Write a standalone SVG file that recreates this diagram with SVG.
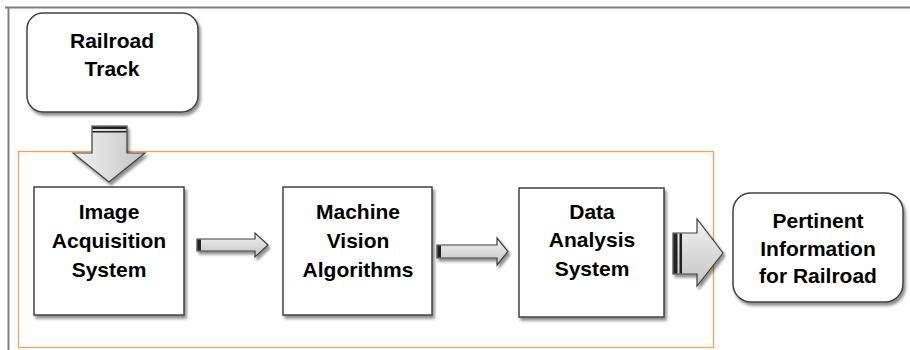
<svg xmlns="http://www.w3.org/2000/svg" width="910" height="350" viewBox="0 0 910 350">
<defs>
<filter id="sh" x="-10%" y="-10%" width="130%" height="130%">
<feGaussianBlur in="SourceAlpha" stdDeviation="1.5"/>
<feOffset dx="2" dy="3" result="b"/>
<feComponentTransfer><feFuncA type="linear" slope="0.45"/></feComponentTransfer>
<feMerge><feMergeNode/><feMergeNode in="SourceGraphic"/></feMerge>
</filter>
<linearGradient id="gv" x1="0" y1="0" x2="1" y2="0">
<stop offset="0" stop-color="#f2f2f2"/><stop offset="1" stop-color="#c4c4c4"/>
</linearGradient>
<linearGradient id="gh" x1="0" y1="0" x2="0" y2="1">
<stop offset="0" stop-color="#f2f2f2"/><stop offset="1" stop-color="#c4c4c4"/>
</linearGradient>
</defs>
<style>
.box{fill:#fff;stroke:#404040;stroke-width:1.5;filter:url(#sh)}
.t{font-family:"Liberation Sans",Arial,sans-serif;font-weight:bold;font-size:21px;fill:#000;text-anchor:middle}
.arr{stroke:#404040;stroke-width:1.2;stroke-linejoin:miter;filter:url(#sh)}
.band{fill:#222}
</style>
<rect width="910" height="350" fill="#fff"/>
<path d="M5 7.5H910M8.5 7V350" stroke="#808080" stroke-width="2" fill="none"/>
<rect x="18.5" y="151.5" width="695" height="196" fill="none" stroke="#f5a05a" stroke-width="1.3"/>
<g id="railroad-track">
<rect class="box" x="27" y="13" width="171" height="99" rx="16"/>
<text class="t" x="112" y="48">Railroad</text>
<text class="t" x="112" y="76">Track</text>
</g>
<g id="image-acquisition">
<rect class="box" x="34" y="187" width="150" height="128"/>
<text class="t" x="109" y="219">Image</text>
<text class="t" x="109" y="248">Acquisition</text>
<text class="t" x="109" y="277">System</text>
</g>
<g id="machine-vision">
<rect class="box" x="283" y="187" width="149" height="128"/>
<text class="t" x="358" y="219">Machine</text>
<text class="t" x="358" y="248">Vision</text>
<text class="t" x="358" y="277">Algorithms</text>
</g>
<g id="data-analysis">
<rect class="box" x="519" y="188" width="145" height="129"/>
<text class="t" x="592" y="219">Data</text>
<text class="t" x="592" y="247">Analysis</text>
<text class="t" x="592" y="276">System</text>
</g>
<g id="pertinent-info">
<rect class="box" x="733" y="193" width="170" height="109" rx="18"/>
<text class="t" x="818" y="228">Pertinent</text>
<text class="t" x="818" y="256">Information</text>
<text class="t" x="818" y="283">for Railroad</text>
</g>
<g id="connectors">
<path class="arr" fill="url(#gv)" d="M92 126H127V153H145L109 182L73 153H92Z"/>
<rect class="band" x="92.5" y="126.5" width="34" height="2.5"/>
<rect class="band" x="92.5" y="131" width="34" height="1.5"/>
<path class="arr" fill="url(#gh)" d="M197 239H255V233L268 245L255 257V251H197Z"/>
<rect class="band" x="197.5" y="239.5" width="3.5" height="11"/>
<path class="arr" fill="url(#gh)" d="M437 245H497V238L508 251.5L497 265V258H437Z"/>
<rect class="band" x="437.5" y="245.5" width="3.5" height="12"/>
<path class="arr" fill="url(#gh)" d="M673 233H697V219L723 253L697 286V274H673Z"/>
<rect class="band" x="673.5" y="233.5" width="4" height="40"/>
<rect class="band" x="679.5" y="233.5" width="2.5" height="40"/>
</g>
</svg>
